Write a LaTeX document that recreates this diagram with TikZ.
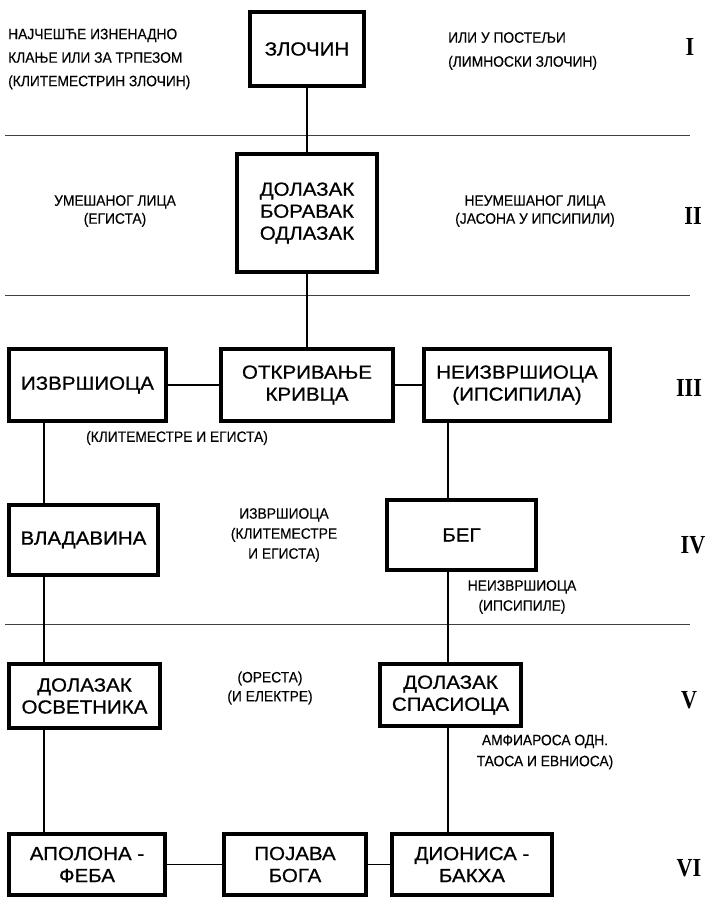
\documentclass[tikz,border=0pt]{standalone}
\usepackage{fontspec}
\setmainfont{Liberation Sans}
\newfontfamily\boxsans[FakeStretch=1.08, FakeBold=0.8]{Liberation Sans}
\newfontfamily\narrowsans[FakeStretch=0.92, FakeBold=0.3]{Liberation Sans}
\newfontfamily\numfont[FakeStretch=0.85]{Liberation Serif}
\usetikzlibrary{positioning}

\begin{document}
\begin{tikzpicture}[
  x=1pt, y=-1pt,
  box/.style={draw, line width=4pt, align=center, inner sep=2pt,
              font=\boxsans\fontsize{19}{22}\selectfont},
  note/.style={align=center, inner sep=0pt,
               font=\narrowsans\fontsize{15}{#1}\selectfont},
  note/.default=20,
  num/.style={inner sep=0pt, font=\numfont\bfseries\fontsize{26}{26}\selectfont},
  link/.style={line width=1.3pt},
  sep/.style={line width=0.9pt, black!75}]
\useasboundingbox (0,0) rectangle (709,899);
% boxes
\node[box, minimum width=114pt, minimum height=74pt] (zlocin) at (307,49) {ЗЛОЧИН};
\node[box, minimum width=140pt, minimum height=118pt] (dolazak) at (307,213) {ДОЛАЗАК\\БОРАВАК\\ОДЛАЗАК};
\node[box, minimum width=157pt, minimum height=72pt] (izvrs) at (87.5,385) {ИЗВРШИОЦА};
\node[box, minimum width=172pt, minimum height=72pt] (otkr) at (307,385) {ОТКРИВАЊЕ\\КРИВЦА};
\node[box, minimum width=186pt, minimum height=72pt] (neizvrs) at (517,385) {НЕИЗВРШИОЦА\\(ИПСИПИЛА)};
\node[box, minimum width=149pt, minimum height=70pt] (vlad) at (83.5,540) {ВЛАДАВИНА};
\node[box, minimum width=149pt, minimum height=70pt] (beg) at (461.5,535) {БЕГ};
\node[box, minimum width=151pt, minimum height=64pt] (osvet) at (84.5,696) {ДОЛАЗАК\\ОСВЕТНИКА};
\node[box, minimum width=141pt, minimum height=62pt] (spas) at (450.5,695) {ДОЛАЗАК\\СПАСИОЦА};
\node[box, minimum width=156pt, minimum height=61pt] (apolon) at (87,864.5) {АПОЛОНА -\\ФЕБА};
\node[box, minimum width=142pt, minimum height=61pt] (pojava) at (295,864.5) {ПОЈАВА\\БОГА};
\node[box, minimum width=160pt, minimum height=61pt] (dionis) at (472,864.5) {ДИОНИСА -\\БАКХА};
% side notes
\node[note=23.5, align=left, anchor=west] (krimL) at (8,59) {НАЈЧЕШЋЕ ИЗНЕНАДНО\\КЛАЊЕ ИЛИ ЗА ТРПЕЗОМ\\(КЛИТЕМЕСТРИН ЗЛОЧИН)};
\node[note=24, align=left, anchor=west] (krimR) at (448,51) {ИЛИ У ПОСТЕЉИ\\(ЛИМНОСКИ ЗЛОЧИН)};
\node[note=18] (licaL) at (115,211) {УМЕШАНОГ ЛИЦА\\(ЕГИСТА)};
\node[note=18] (licaR) at (535,211) {НЕУМЕШАНОГ ЛИЦА\\(ЈАСОНА У ИПСИПИЛИ)};
\node[note] (kriviA) at (177,438) {(КЛИТЕМЕСТРЕ И ЕГИСТА)};
\node[note] (kriviB) at (284,535) {ИЗВРШИОЦА\\(КЛИТЕМЕСТРЕ\\И ЕГИСТА)};
\node[note] (nekriv) at (522,597) {НЕИЗВРШИОЦА\\(ИПСИПИЛЕ)};
\node[note=19] (osvetn) at (270,688) {(ОРЕСТА)\\(И ЕЛЕКТРЕ)};
\node[note=21] (spasn) at (545,752) {АМФИАРОСА ОДН.\\ТАОСА И ЕВНИОСА)};
% stages
\node[num] (st1) at (690,47) {I};
\node[num] (st2) at (693,216) {II};
\node[num] (st3) at (689,388) {III};
\node[num] (st4) at (693,545) {IV};
\node[num] (st5) at (689,700) {V};
\node[num] (st6) at (689,868) {VI};
% stage rules
\draw[sep] (5,135) -- (690,135);
\draw[sep] (5,295) -- (690,295);
\draw[sep] (5,624) -- (690,624);
% links
\coordinate (lcol) at (44,0);
\coordinate (rcol) at (448,0);
\draw[link] (zlocin) -- (dolazak);
\draw[link] (dolazak) -- (otkr);
\draw[link] (izvrs) -- (otkr);
\draw[link] (otkr) -- (neizvrs);
\draw[link] (izvrs.south -| lcol) -- (vlad.north -| lcol);
\draw[link] (vlad.south -| lcol) -- (osvet.north -| lcol);
\draw[link] (osvet.south -| lcol) -- (apolon.north -| lcol);
\draw[link] (neizvrs.south -| rcol) -- (beg.north -| rcol);
\draw[link] (beg.south -| rcol) -- (spas.north -| rcol);
\draw[link] (spas.south -| rcol) -- (dionis.north -| rcol);
\draw[link] (apolon) -- (pojava);
\draw[link] (pojava) -- (dionis);
\end{tikzpicture}
\end{document}
